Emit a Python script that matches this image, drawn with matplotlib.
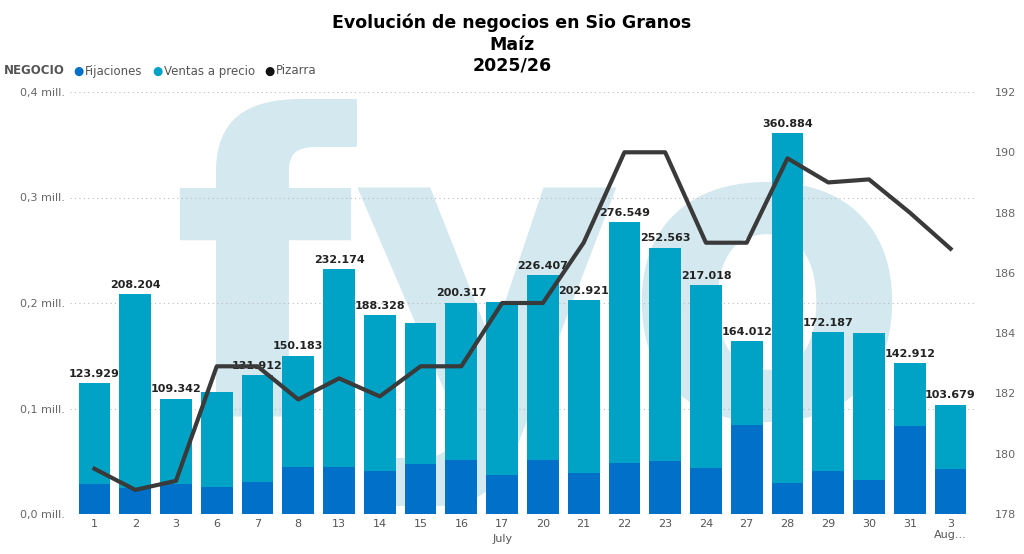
import matplotlib
matplotlib.use("Agg")
import matplotlib.pyplot as plt
import numpy as np

cats = ["1","2","3","6","7","8","13","14","15","16","17","20","21","22","23","24","27","28","29","30","31","3\nAug..."]
totals = [123929,208204,109342,115500,131912,150183,232174,188328,181500,200317,200500,226407,202921,276549,252563,217018,164012,360884,172187,171500,142912,103679]
fij = [28000,25000,28000,26000,30000,45000,45000,41000,47000,51000,37000,51000,39000,48000,50000,44000,84000,29000,41000,32000,83000,43000]
show_label = [True,True,True,False,True,True,True,True,False,True,False,True,True,True,True,True,True,True,True,False,True,True]
pizarra = [179.5,178.8,179.1,182.9,182.9,181.8,182.5,181.9,182.9,182.9,185.0,185.0,187.0,190.0,190.0,187.0,187.0,189.8,189.0,189.1,188.0,186.8]

fij_m = np.array(fij)/1e6
ventas_m = (np.array(totals)-np.array(fij))/1e6
tot_m = np.array(totals)/1e6

fig = plt.figure(figsize=(10.24,5.54), dpi=100)
ax = fig.add_axes([70/1024, 1-514/554, 905/1024, 422/554])
x = np.arange(len(cats))
ax.text(0.52, 0.5, "fyo", transform=ax.transAxes, fontsize=300, color="#d3e8ef",
        ha="center", va="center", fontweight="bold", zorder=0)
ax.bar(x, fij_m, width=0.78, color="#0070C8", zorder=2)
ax.bar(x, ventas_m, bottom=fij_m, width=0.78, color="#00A3C6", zorder=2)
for i,(t,s) in enumerate(zip(tot_m, show_label)):
    if s:
        ax.text(i, t+0.004, f"{totals[i]/1000:.3f}", ha="center", va="bottom", fontsize=8, fontweight="bold", color="#222222", zorder=5)
ax.set_ylim(0,0.4)
ax.set_xlim(-0.6, len(cats)-0.4)
ax.set_yticks([0,0.1,0.2,0.3,0.4])
ax.set_yticklabels(["0,0 mill.","0,1 mill.","0,2 mill.","0,3 mill.","0,4 mill."])
ax.set_xticks(x)
ax.set_xticklabels(cats, fontsize=8, color="#555555")
ax.tick_params(axis="y", labelsize=8, colors="#666666", length=0)
ax.tick_params(axis="x", length=0)
ax.grid(axis="y", linestyle=(0,(1,3)), color="#bbbbbb", zorder=1)
for s in ax.spines.values(): s.set_visible(False)
ax.text(10, -0.024, "July", ha="center", va="center", fontsize=8, color="#555555", transform=ax.transData, clip_on=False)

ax2 = ax.twinx()
ax2.plot(x, pizarra, color="#3a3a3a", linewidth=3, zorder=4)
ax2.set_ylim(178,192)
ax2.set_yticks(range(178,193,2))
ax2.tick_params(axis="y", labelsize=8, colors="#666666", length=0, pad=14)
for s in ax2.spines.values(): s.set_visible(False)

fig.text(0.5, 0.975, "Evolución de negocios en Sio Granos", ha="center", va="top", fontsize=12.5, fontweight="bold")
fig.text(0.5, 0.935, "Maíz", ha="center", va="top", fontsize=12.5, fontweight="bold")
fig.text(0.5, 0.898, "2025/26", ha="center", va="top", fontsize=12.5, fontweight="bold")

yl = 1-71/554
fig.text(0.004, yl, "NEGOCIO", fontsize=8.5, fontweight="bold", color="#555555", va="center")
items = [("Fijaciones","#0070C8",73),("Ventas a precio","#00A3C6",152),("Pizarra","#111111",264)]
for lab,c,px in items:
    fig.text(px/1024, yl, "●", color=c, fontsize=8.5, va="center")
    fig.text((px+12)/1024, yl, lab, color="#555555", fontsize=8.5, va="center")

fig.savefig("out.png", dpi=100)
